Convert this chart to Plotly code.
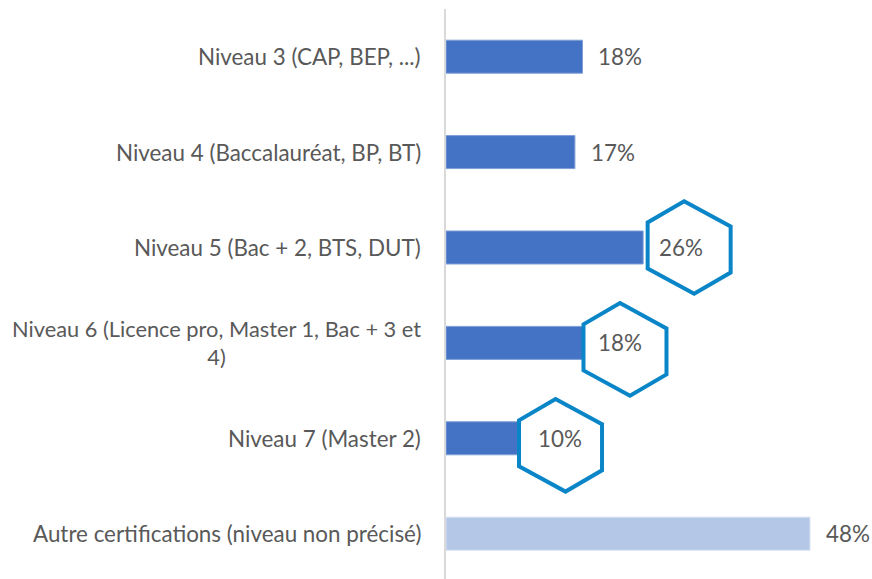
import plotly.graph_objects as go

categories = [
    "Niveau 3 (CAP, BEP, ...)",
    "Niveau 4 (Baccalauréat, BP, BT)",
    "Niveau 5 (Bac + 2, BTS, DUT)",
    "Niveau 6 (Licence pro, Master 1, Bac + 3 et<br>4)",
    "Niveau 7 (Master 2)",
    "Autre certifications (niveau non précisé)",
]
values = [18, 17, 26, 18, 10, 48]
value_labels = ["18%", "17%", "26%", "18%", "10%", "48%"]
highlighted = [False, False, True, True, True, False]

# styling
bar_colors = ["#4472C4"] * 5 + ["#B4C7E7"]
bar_lines = ["#7F9FD6"] * 5 + ["#D6E1F2"]
FONT = "Lato, Carlito, Calibri, sans-serif"
FSIZE = 22.4
label_sizes = [22.4, 22.4, 22.4, 21.8, 22.4, 22.4]
TXT = "#595959"
HEX_COLOR = "#0A86C8"
# hexagon centre offsets in pixels from the bar end / bar centre
hex_offsets = {2: (46, 0), 3: (42.5, 6.5), 4: (38.7, 7)}

fig = go.Figure()
fig.add_trace(go.Bar(
    y=categories, x=values, orientation="h",
    width=0.346,
    marker=dict(color=bar_colors, line=dict(color=bar_lines, width=1)),
    hoverinfo="skip",
))

# hexagon vertices in screen pixels relative to centre (y downward)
hex_pts = [(-5, -46.3), (41.5, -21), (41.5, 25), (5, 46.3), (-41.5, 21), (-41.5, -25)]

def hex_path(dx, dy):
    pts = [(x + dx, -(y + dy)) for x, y in hex_pts]
    return "M" + " L".join(f"{x:.1f},{y:.1f}" for x, y in pts) + " Z"

for i, (cat, v, lab, hl) in enumerate(zip(categories, values, value_labels, highlighted)):
    if hl:
        dx, dy = hex_offsets[i]
        fig.add_shape(
            type="path", xref="x", yref="y",
            xsizemode="pixel", ysizemode="pixel",
            xanchor=v, yanchor=cat,
            path=hex_path(dx, dy),
            line=dict(color=HEX_COLOR, width=4),
            fillcolor="white", layer="above",
        )
    # category label
    fig.add_annotation(
        x=0, xref="paper", y=cat, yref="y",
        text=cat, showarrow=False,
        xanchor="right", yanchor="middle", align="center",
        xshift=-23,
        font=dict(family=FONT, size=label_sizes[i], color=TXT),
    )

for i, (cat, v, lab) in enumerate(zip(categories, values, value_labels)):
    fig.add_annotation(
        x=v, xref="x", y=cat, yref="y",
        text=lab, showarrow=False,
        xanchor="left", yanchor="middle",
        xshift=14,
        font=dict(family=FONT, size=FSIZE, color=TXT),
    )

fig.update_layout(
    width=872, height=579,
    margin=dict(l=446, r=0, t=9, b=0),
    paper_bgcolor="white", plot_bgcolor="white",
    showlegend=False,
    xaxis=dict(range=[0, 56.18], visible=False, fixedrange=True),
    yaxis=dict(
        type="category", categoryorder="array", categoryarray=categories,
        range=[5.475, -0.5],
        showticklabels=False, showgrid=False, zeroline=False,
        showline=True, linecolor="#D9D9D9", linewidth=2,
        ticks="", fixedrange=True,
    ),
)

fig.write_html(
    "out.html",
    config={"displayModeBar": False, "staticPlot": True},
    post_script="document.body.style.margin='0';document.body.style.overflow='hidden';",
)
